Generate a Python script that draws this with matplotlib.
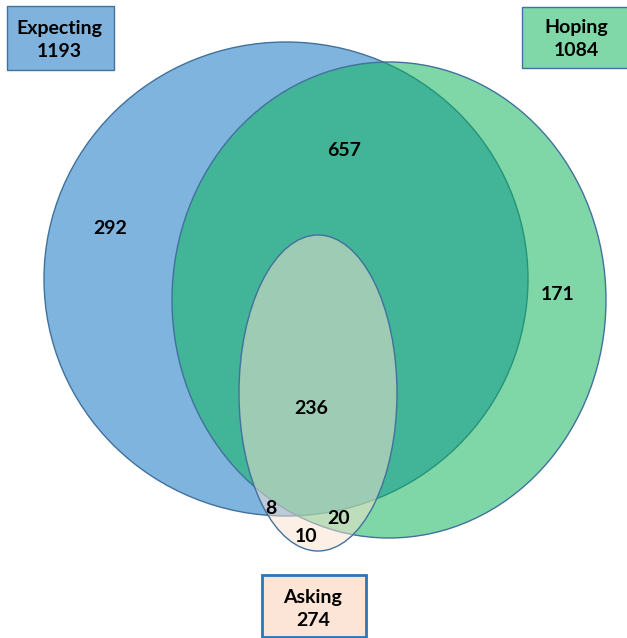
import matplotlib
matplotlib.use("Agg")
import matplotlib.pyplot as plt
from matplotlib.patches import Ellipse, Rectangle

# set names and totals
set_names = ["Expecting", "Hoping", "Asking"]
set_totals = [1193, 1084, 274]

# region counts
region_names = ["E only", "E&H", "H only", "E&H&A", "E&A", "H&A", "A only"]
region_counts = [292, 657, 171, 236, 8, 20, 10]

plt.rcParams['font.family'] = ['Lato', 'DejaVu Sans']

fig = plt.figure(figsize=(6.27, 6.38), dpi=100)
ax = fig.add_axes([0, 0, 1, 1])
ax.set_xlim(0, 627)
ax.set_ylim(638, 0)
ax.axis('off')

edge = '#41719C'

# shapes in pixel coords (center, width, height, rgba face), back to front
shapes = [
    ((286, 279), 484, 474, (0.494, 0.706, 0.867, 1.0)),
    ((389, 300), 434, 476, (0.043, 0.706, 0.345, 0.52)),
    ((318, 393), 158, 316, (0.984, 0.89, 0.81, 0.5)),
]
for (c, w, h, fc) in shapes:
    ax.add_patch(Ellipse(c, w, h, facecolor=fc, edgecolor=edge, lw=1.0))

# region labels
label_pos = [(110, 228), (344, 151), (558, 294), (311, 408), (271, 508), (339, 519), (306, 536)]
for (x, y), n in zip(label_pos, region_counts):
    ax.text(x, y, str(n), ha='center', va='center', fontsize=14, fontweight='bold', color='black')

# name boxes: x, y, w, h, face, edge, lw, text centre x, first baseline y
boxes = [
    (7, 6, 107, 64, '#7FB3DE', edge, 1.0, 59, 34),
    (522, 7, 120, 61, '#80D8A8', edge, 1.0, 576, 33),
    (262, 575, 104, 62, '#FCE4D6', '#2E75B6', 2.0, 313, 603),
]
for (x, y, w, h, fc, ec, lw, tx, ty), name, total in zip(boxes, set_names, set_totals):
    ax.add_patch(Rectangle((x, y), w, h, facecolor=fc, edgecolor=ec, lw=lw))
    ax.text(tx, ty, name, ha='center', va='baseline',
            fontsize=14, fontweight='bold', color='black')
    ax.text(tx, ty + 23, str(total), ha='center', va='baseline',
            fontsize=14, fontweight='bold', color='black')

fig.savefig('out.png', dpi=100)
